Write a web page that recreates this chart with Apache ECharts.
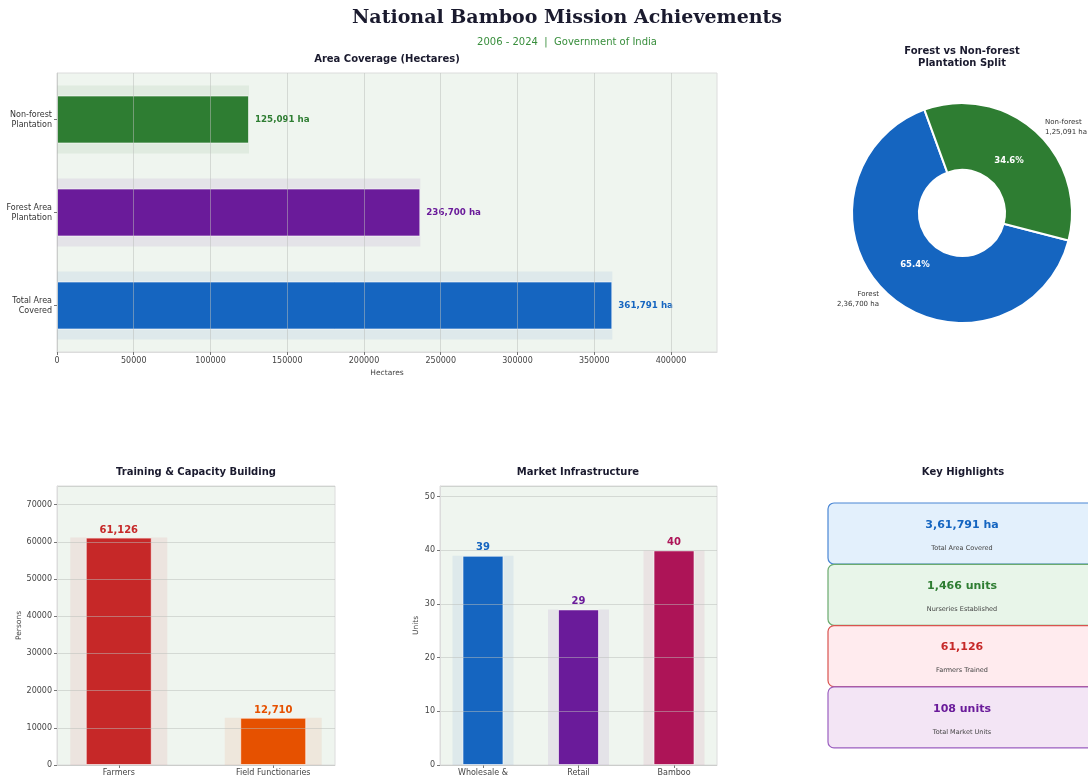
<!DOCTYPE html>
<html>
<head>
<meta charset="utf-8">
<title>National Bamboo Mission Achievements</title>
<script src="https://cdn.jsdelivr.net/npm/echarts@6/dist/echarts.min.js"></script>
<style>
  html, body { margin: 0; padding: 0; background: #fff; }
  #chart { width: 1088px; height: 779px; }
</style>
</head>
<body>
<div id="chart"></div>
<script>
// --- data ---
const areaCategories = ['Total Area\nCovered', 'Forest Area\nPlantation', 'Non-forest\nPlantation'];
const areaValues = [361791, 236700, 125091];
const areaTicks = [0, 50000, 100000, 150000, 200000, 250000, 300000, 350000, 400000];

const splitNames = ['Forest', 'Non-forest'];
const splitValues = [236700, 125091];

const trainingCategories = ['Farmers', 'Field Functionaries'];
const trainingValues = [61126, 12710];

const marketCategories = ['Wholesale &', 'Retail', 'Bamboo'];
const marketValues = [39, 29, 40];

const highlightValues = [361791, 1466, 61126, 108];
const highlightUnits = [' ha', ' units', '', ' units'];
const highlightLabels = ['Total Area Covered', 'Nurseries Established', 'Farmers Trained', 'Total Market Units'];

// --- styles ---
const areaColors = ['#1565c0', '#6a1b9a', '#2e7d32'];
const splitColors = ['#1565c0', '#2e7d32'];
const trainingColors = ['#c62828', '#e65100'];
const marketColors = ['#1565c0', '#6a1b9a', '#ad1457'];
const cardFills = ['#e3f0fc', '#e8f5e9', '#ffebee', '#f3e5f5'];
const cardStrokes = ['#4a86d4', '#6aaa6e', '#d9534f', '#9b5fc0'];
const cardText = ['#1565c0', '#2e7d32', '#c62828', '#6a1b9a'];

const FONT = 'DejaVu Sans';
const plotBg = '#eff5ef';
const gridLine = 'rgba(185,190,185,0.5)';   // drawn over the bars, like the original
const frame = '#dcdcdc';

function fade(hex, a) {
  const n = parseInt(hex.slice(1), 16);
  return `rgba(${(n >> 16) & 255},${(n >> 8) & 255},${n & 255},${a})`;
}

// Indian digit grouping, e.g. 361791 -> 3,61,791
function fmtIN(n) {
  const s = String(n);
  if (s.length <= 3) return s;
  const rest = s.slice(0, -3).replace(/\B(?=(\d{2})+(?!\d))/g, ',');
  return rest + ',' + s.slice(-3);
}

const tickLabel = { fontFamily: FONT, fontSize: 8, color: '#444' };
const axisLineStyle = { show: true, onZero: false, lineStyle: { color: frame } };
const smallTick = { show: true, length: 3, lineStyle: { color: '#777' } };
const plain = v => String(v);

const chart = echarts.init(document.getElementById('chart'));

// key highlight cards
const cards = [];
highlightValues.forEach((v, i) => {
  const top = 503 + i * 61.3;
  cards.push({
    type: 'rect', shape: { x: 828, y: top, width: 268, height: 61, r: 6 },
    style: { fill: cardFills[i], stroke: cardStrokes[i], lineWidth: 1.2 }, z: 10
  });
  cards.push({
    type: 'text', x: 962, y: top + 22, z: 11,
    style: { text: fmtIN(v) + highlightUnits[i], fill: cardText[i], font: `bold 11px "${FONT}"`, textAlign: 'center', textVerticalAlign: 'middle' }
  });
  cards.push({
    type: 'text', x: 962, y: top + 45, z: 11,
    style: { text: highlightLabels[i], fill: '#444', font: `6.5px "${FONT}"`, textAlign: 'center', textVerticalAlign: 'middle' }
  });
});

function headText(text, x, y, size, extra) {
  return {
    type: 'text', x: x, y: y, z: 10,
    style: Object.assign({
      text: text, fill: '#1a1a2e', font: `bold ${size}px "${FONT}"`,
      textAlign: 'center', textVerticalAlign: 'middle'
    }, extra || {})
  };
}

const option = {
  backgroundColor: '#ffffff',
  animation: false,
  graphic: [
    headText('National Bamboo Mission Achievements', 567, 18, 19, { font: 'bold 19px "DejaVu Serif"' }),
    headText('2006 - 2024  |  Government of India', 567, 42, 10, { fill: '#388e3c', font: `10px "${FONT}"` }),
    headText('Area Coverage (Hectares)', 387, 59, 10),
    headText('Forest vs Non-forest\nPlantation Split', 962, 57, 10, { lineHeight: 12 }),
    headText('Training & Capacity Building', 196, 472, 10),
    headText('Market Infrastructure', 578, 472, 10),
    headText('Key Highlights', 963, 472, 10)
  ].concat(cards),
  grid: [
    { left: 57, top: 73, width: 660, height: 279, show: true, backgroundColor: plotBg, borderColor: frame, borderWidth: 1 },
    { left: 57, top: 486, width: 278, height: 279, show: true, backgroundColor: plotBg, borderColor: frame, borderWidth: 1 },
    { left: 440, top: 486, width: 277, height: 279, show: true, backgroundColor: plotBg, borderColor: frame, borderWidth: 1 }
  ],
  xAxis: [
    {
      gridIndex: 0, type: 'value', min: 0, max: 430000, interval: 50000, z: 4,
      axisLine: axisLineStyle, axisTick: Object.assign({ customValues: areaTicks }, smallTick),
      axisLabel: Object.assign({ customValues: areaTicks, margin: 5, formatter: plain }, tickLabel),
      splitLine: { show: true, lineStyle: { color: gridLine } },
      name: 'Hectares', nameLocation: 'middle', nameGap: 17,
      nameTextStyle: { fontFamily: FONT, fontSize: 7.5, color: '#444' }
    },
    {
      gridIndex: 1, type: 'value', min: -0.4, max: 1.4,
      axisLine: axisLineStyle, axisTick: Object.assign({ customValues: [0, 1] }, smallTick),
      axisLabel: Object.assign({ customValues: [0, 1], margin: 4, formatter: v => trainingCategories[Math.round(v)] }, tickLabel),
      splitLine: { show: false }
    },
    { gridIndex: 1, type: 'value', min: -0.4, max: 1.4, show: false, axisLine: { onZero: false } },
    {
      gridIndex: 2, type: 'value', min: -0.45, max: 2.45,
      axisLine: axisLineStyle, axisTick: Object.assign({ customValues: [0, 1, 2] }, smallTick),
      axisLabel: Object.assign({ customValues: [0, 1, 2], margin: 4, formatter: v => marketCategories[Math.round(v)] }, tickLabel),
      splitLine: { show: false }
    },
    { gridIndex: 2, type: 'value', min: -0.45, max: 2.45, show: false, axisLine: { onZero: false } }
  ],
  yAxis: [
    {
      gridIndex: 0, type: 'category', data: areaCategories,
      axisLine: axisLineStyle, axisTick: Object.assign({ alignWithLabel: true }, smallTick),
      axisLabel: Object.assign({}, tickLabel, { color: '#333', lineHeight: 10, margin: 5 })
    },
    { gridIndex: 0, type: 'category', data: areaCategories, show: false },
    {
      gridIndex: 1, type: 'value', min: 0, max: 75000, interval: 10000, z: 4,
      axisLine: axisLineStyle, axisTick: smallTick,
      axisLabel: Object.assign({ showMaxLabel: false, margin: 5, formatter: plain }, tickLabel),
      splitLine: { show: true, lineStyle: { color: gridLine } },
      name: 'Persons', nameLocation: 'middle', nameGap: 31, nameRotate: 90,
      nameTextStyle: { fontFamily: FONT, fontSize: 7.5, color: '#444' }
    },
    {
      gridIndex: 2, type: 'value', min: 0, max: 52, interval: 10, z: 4,
      axisLine: axisLineStyle, axisTick: smallTick,
      axisLabel: Object.assign({ showMaxLabel: false, margin: 5, formatter: plain }, tickLabel),
      splitLine: { show: true, lineStyle: { color: gridLine } },
      name: 'Units', nameLocation: 'middle', nameGap: 20, nameRotate: 90,
      nameTextStyle: { fontFamily: FONT, fontSize: 7.5, color: '#444' }
    }
  ],
  series: [
    // area coverage
    {
      type: 'bar', xAxisIndex: 0, yAxisIndex: 1, barWidth: 68, silent: true, z: 1,
      data: areaValues.map((v, i) => ({ value: v, itemStyle: { color: fade(areaColors[i], 0.08) } }))
    },
    {
      type: 'bar', xAxisIndex: 0, yAxisIndex: 0, barWidth: 48, z: 3,
      data: areaValues.map((v, i) => ({
        value: v,
        itemStyle: { color: areaColors[i], borderColor: 'rgba(255,255,255,0.6)', borderWidth: 1 },
        label: { color: areaColors[i] }
      })),
      label: {
        show: true, position: 'right', distance: 6, fontFamily: FONT, fontSize: 8.7, fontWeight: 'bold',
        formatter: p => p.value.toLocaleString('en-US') + ' ha'
      }
    },
    // plantation split
    {
      type: 'pie', center: [962, 213], radius: [43, 110], startAngle: 110, clockwise: false,
      percentPrecision: 1, avoidLabelOverlap: false,
      itemStyle: { borderColor: '#fff', borderWidth: 2 },
      data: splitNames.map((n, i) => ({ name: n, value: splitValues[i], itemStyle: { color: splitColors[i] } })),
      label: {
        show: true, position: 'outside', fontFamily: FONT, fontSize: 7, color: '#333', lineHeight: 10,
        formatter: p => p.name + '\n' + fmtIN(p.value) + ' ha'
      },
      labelLine: { show: false, length: 6, length2: 0 },
      emphasis: { disabled: true }
    },
    {
      type: 'pie', center: [962, 213], radius: [24, 110], startAngle: 110, clockwise: false,
      percentPrecision: 1, silent: true, z: 5,
      itemStyle: { color: 'rgba(0,0,0,0)', borderWidth: 0 },
      data: splitNames.map((n, i) => ({ name: n, value: splitValues[i] })),
      label: {
        show: true, position: 'inside', fontFamily: FONT, fontSize: 8.5, fontWeight: 'bold', color: '#fff',
        formatter: '{d}%'
      },
      labelLine: { show: false },
      emphasis: { disabled: true }
    },
    // training
    {
      type: 'bar', xAxisIndex: 2, yAxisIndex: 2, barWidth: 97, silent: true, z: 1,
      data: trainingValues.map((v, i) => ({ value: [i, v], itemStyle: { color: fade(trainingColors[i], 0.08) } }))
    },
    {
      type: 'bar', xAxisIndex: 1, yAxisIndex: 2, barWidth: 66, z: 3,
      data: trainingValues.map((v, i) => ({
        value: [i, v],
        itemStyle: { color: trainingColors[i], borderColor: 'rgba(255,255,255,0.6)', borderWidth: 1 },
        label: { color: trainingColors[i] }
      })),
      label: {
        show: true, position: 'top', distance: 2, fontFamily: FONT, fontSize: 10, fontWeight: 'bold',
        formatter: p => p.value[1].toLocaleString('en-US')
      }
    },
    // market infrastructure
    {
      type: 'bar', xAxisIndex: 4, yAxisIndex: 3, barWidth: 61, silent: true, z: 1,
      data: marketValues.map((v, i) => ({ value: [i, v], itemStyle: { color: fade(marketColors[i], 0.08) } }))
    },
    {
      type: 'bar', xAxisIndex: 3, yAxisIndex: 3, barWidth: 41, z: 3,
      data: marketValues.map((v, i) => ({
        value: [i, v],
        itemStyle: { color: marketColors[i], borderColor: 'rgba(255,255,255,0.6)', borderWidth: 1 },
        label: { color: marketColors[i] }
      })),
      label: {
        show: true, position: 'top', distance: 3, fontFamily: FONT, fontSize: 10, fontWeight: 'bold',
        formatter: p => String(p.value[1])
      }
    }
  ]
};

chart.setOption(option);
</script>
</body>
</html>
